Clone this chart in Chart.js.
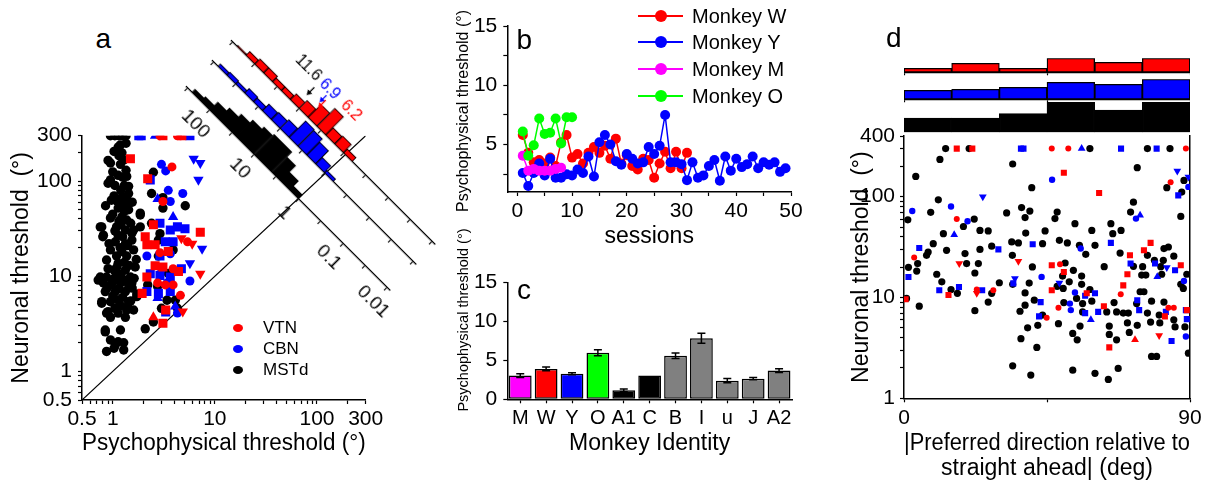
<!DOCTYPE html>
<html>
<head>
<meta charset="utf-8">
<script src="https://cdn.jsdelivr.net/npm/chart.js"></script>
<style>
  body { margin: 0; background: #fff; }
  #fig { position: relative; width: 1206px; height: 483px; overflow: hidden; font-family: 'Liberation Sans', Arial, sans-serif; color: #000; }
  canvas { position: absolute; }
  .lbl { position: absolute; font-size: 28px; line-height: 28px; }
  .leg { position: absolute; display: flex; align-items: center; white-space: nowrap; }
  .vtitle { position: absolute; width: 260px; height: 20px; line-height: 20px; text-align: center; transform: rotate(-90deg); white-space: nowrap; }
</style>
</head>
<body>
<div id="fig">
  <canvas id="cA" width="420" height="383" style="left:0;top:100px"></canvas>
  <canvas id="hMSTd" width="330" height="92"></canvas>
  <canvas id="hCBN" width="330" height="92"></canvas>
  <canvas id="hVTN" width="330" height="92"></canvas>
  <canvas id="cB" width="400" height="252" style="left:440px;top:0"></canvas>
  <canvas id="cC" width="400" height="233" style="left:440px;top:250px"></canvas>
  <canvas id="cD" width="366" height="383" style="left:840px;top:100px"></canvas>
  <canvas id="dMSTd" width="286" height="40" style="left:904px;top:96px"></canvas>
  <canvas id="dCBN" width="286" height="28" style="left:904px;top:75px"></canvas>
  <canvas id="dVTN" width="286" height="22" style="left:904px;top:54px"></canvas>
  <div class="lbl" style="left:95.5px;top:24.6px">a</div>
  <div class="lbl" style="left:516.5px;top:26.3px">b</div>
  <div class="lbl" style="left:517px;top:276.3px">c</div>
  <div class="lbl" style="left:886px;top:24.3px">d</div>
  <div class="vtitle" style="left:333px;top:101px;font-size:16px">Psychophysical threshold (°)</div>
  <div class="vtitle" style="left:333px;top:310px;font-size:14.5px">Psychophysical threshold (°)</div>
  <div id="legA"></div>
  <div id="legB"></div>
</div>
<script>
// ---------- panel a : neuronal vs psychophysical threshold ----------
const mstdA = [
  [0.95,300],[1.05,300],[1.15,300],[1.25,300],[1.35,300],
  [1.19,240],[1.03,205],[1.23,198],[0.9,165],[1.19,150],[0.95,103],[1.13,115],[1.37,112],[1.43,88],
  [1.03,70],[1.23,67],[1.37,67],[0.97,63],[1.28,58],[1.13,52],[1.43,50],[0.95,41],[1.23,42],[1.37,39],
  [1.86,44],[0.78,33],[1.09,33],[1.33,30.6],[0.81,27],[1.13,27],[1.6,30.6],[1.86,33],[1.06,23],[1.33,22],
  [1.54,24],[0.95,18.9],[1.23,18.2],[1.09,16.3],[1.37,16.3],[0.87,14.8],[1.13,13.7],[1.03,11.6],[1.33,11.6],
  [0.755,9.8],[0.87,9.8],[1.06,9.8],[1.23,9.5],[1.49,9.8],[0.81,8.5],[0.97,8.1],[1.19,8.5],[1.43,8.1],
  [0.845,6.9],[1.06,6.9],[1.33,6.9],[0.78,5.4],[0.95,5.4],[1.13,5.63],[1.43,5.4],[1.72,6.1],[0.9,4.25],
  [1.13,4.1],[1.37,4.42],[0.845,2.6],[1.19,2.72],[0.95,2.14],[1.13,2.05],[0.87,1.62],[1.03,1.75],[1.28,1.68],
  [0.755,33],[0.8,26],[0.72,9.1],[0.78,5.2],[0.87,4.1],[0.845,2.72],[1.06,1.9],[1.28,2.0],[1.33,3.7],
  [1.6,4.42],[1.72,6.5],[1.54,8.5],[1.66,12.5],[1.6,18.9],[1.54,28.3],[1.86,46],[1.43,74],[1.13,228],
  [0.95,155],[0.9,95],[1.28,167],
  [1.0,45],[1.15,38],[1.3,48],[1.2,35],[1.05,30],[1.25,26],[1.4,21],[0.92,22],[1.18,20],[1.3,14],
  [1.1,12.5],[1.45,13],[0.9,12],[1.2,10.5],[1.0,8.8],[1.35,9],[1.55,7.5],[1.15,7.4],[0.88,7.5],[1.25,6],
  [1.0,6.2],[1.4,4.8],[1.2,4.9],[1.05,4.6],[0.95,3.7],[1.5,5.5],[1.62,9.5],[1.7,15],[1.5,36],[1.4,56],
  [1.2,80],[1.05,90],[1.3,90],[1.55,60],[0.85,55],[1.1,62],[1.35,130],[1.25,110],[1.15,185],[1.35,250],[1.0,125],
  [2.5,124],[2.4,74],[3.1,67],[3.1,52],[2.4,36],[5.13,55],[2.8,24],[3.9,18.9],[2.75,7.8],[3.4,5.6],
  [4.1,5.6],[3.0,4.6],[2.08,2.8],[2.5,3.3],[4.3,4.6],[2.2,8.1],[3.5,10.7],[2.8,16.3],[2.9,28]
];
const cbnA_circle = [[3.0,150],[3.3,128],[3.5,80],[4.85,74],[3.66,61],[2.16,16.3],[3.66,17.2],[5.7,8.9],[4.3,4.1],[3.0,12],[3.4,8.5]];
const cbnA_square = [[1.8,300],[1.9,300],[5.7,300],[2.33,103],[2.9,36],[4.3,33],[5.1,31.5],[3.66,30.6],[3.27,23],[3.9,23],
  [2.9,16.3],[4.7,12],[2.33,10.6],[2.9,10.2],[3.66,9.8],[2.16,6.9],[2.8,6.6],[3.66,6.9],[3.3,4.2]];
const cbnA_up = [[2.6,300],[2.75,65],[3.9,42],[2.75,5.9],[4.09,4.8]];
const cbnA_down = [[6.2,172],[7.2,155],[6.9,103],[7.5,19.5],[5.7,13.7]];
const vtnA_circle = [[2.9,300],[4.3,300],[4.6,300],[3.8,141],[3.1,61],[5.4,23],[2.9,17.7],[3.9,12],[2.75,8.5],[3.27,8.1],[3.9,8.1],[4.6,6.3]];
const vtnA_square = [[3.1,300],[4.75,300],[1.49,172],[2.2,106],[2.5,34.8],[2.08,26],[7.2,29],[2.16,21.4],[2.6,21.4],[3.5,18.2],
  [2.6,12.9],[3.1,12.5],[4.4,11.2],[2.16,9.8],[1.94,6.6],[3.3,4.42],[3.1,3.2]];
const vtnA_up = [[2.5,3.7]];
const vtnA_down = [[4.7,25],[6.0,22],[7.2,10.6],[4.85,4.25]];
const thresholdTicksA = [0.5, 1, 10, 100, 300];

// rotated histograms of neuronal / psychophysical ratio (log10 bins)
const ratioBins = [2.3, 2.1, 1.9, 1.7, 1.5, 1.3, 1.1, 0.9, 0.7, 0.5, 0.3, 0.1, -0.1];
const mstdRatioCounts = [5, 7, 12, 16, 20, 24, 27, 29, 29, 22, 13, 6, 0];
const cbnRatioCounts  = [4, 5, 4, 7, 6, 10, 11, 13, 24, 23, 19, 10, 4];
const vtnRatioCounts  = [2, 6, 8, 8, 6, 6, 9, 12, 19, 26, 11, 12, 6];
const ratioTicks = [2.5, 2, 1.5, 1, 0.5, 0, -0.5, -1, -1.5, -2];
const ratioMedians = [['11.6', '#000'], ['6.9', '#0000ff'], ['6.2', '#ff0000']];

// ---------- panel b : psychophysical threshold over sessions ----------
const sessionsW = [1,2,3,4,5,6,7,8,9,10,11,12,13,14,15,16,17,18,19,20,21,22,23,24,25,26,27,28,29,30,31];
const psychW = [5.8,4.3,3.5,3.7,3.4,3.9,3.2,5.2,5.8,3.9,4.2,3.4,4.3,4.8,4.3,4.9,3.8,5.5,3.4,4.1,3.2,2.9,3.8,3.7,2.2,3.4,4.4,3.0,4.4,3.0,4.3];
const sessionsY = [1,2,3,4,5,6,7,8,9,10,11,12,13,14,15,16,17,18,19,20,21,22,23,24,25,26,27,28,29,30,31,32,33,34,35,36,37,38,39,40,41,42,43,44,45,46,47,48,49];
const psychY = [2.6,1.5,2.6,3.4,2.4,3.8,2.2,2.2,2.5,2.4,2.9,2.6,4.0,2.3,5.2,5.8,5.0,3.6,3.3,4.2,3.8,3.4,3.5,4.8,4.2,
  4.9,7.5,3.5,3.5,3.35,2.0,3.5,2.2,2.4,3.2,3.7,1.95,4.0,2.8,3.8,3.1,3.35,4.0,3.0,3.5,3.3,3.5,2.7,3.0];
const sessionsM = [1,2,3,4,5,6,7,8];
const psychM = [4.05,2.8,2.95,2.8,2.8,2.8,2.95,3.05];
const sessionsO = [1,2,3,4,5,6,7,8,9,10];
const psychO = [6.1,4.05,4.95,7.2,5.9,6.0,7.2,5.1,7.3,7.3];

// ---------- panel c : mean threshold per monkey ----------
const monkeyIds = ['M','W','Y','O','A1','C','B','I','u','J','A2'];
const meanThreshold = [3.05,3.9,3.3,6.0,1.15,3.05,5.6,7.85,2.4,2.65,3.7];
const semThreshold = [0.24,0.24,0.13,0.39,0.17,0,0.36,0.64,0.26,0.15,0.24];
const monkeyColors = ['#ff00ff','#ff0000','#0000ff','#00ff00','#000000','#000000','#808080','#808080','#808080','#808080','#808080'];

// ---------- panel d : threshold vs preferred direction ----------
const mstdD = [
  [13.1,300],[20.5,300],[58.5,300],[76.6,300],[83.7,300],[11.3,234],[3.7,159],[10.8,93],[8.4,70],[1.2,59],
  [22.1,60],[18.7,50.6],[23.9,46.3],[26.5,45.7],[12.4,43],[9.2,34.2],[27.6,32.3],[7.6,28.2],[13.4,29.4],[23.9,30],
  [19.2,27.3],[7.1,26.2],[1.4,19.9],[4.3,21.7],[23.4,21.7],[19.7,21.7],[4.0,18.3],[10.3,17.0],[22.3,17.5],[11.9,14.3],
  [14.8,12],[16.8,11],[27.6,11],[30.0,14],[26.5,9.0],[4.8,8.2],[22.3,7.4],[0.8,9.8],[32.3,69],[34.2,211],
  [37.0,78],[39.6,72],[38.1,62],[40.2,123],[38.3,43.6],[33.9,35.6],[36.0,34.8],[34.1,26.2],[40.4,20.1],[39.4,13.9],
  [34.2,13.5],[38.1,11.1],[41.0,9.4],[38.1,8.4],[36.5,7.3],[38.9,5.0],[42.1,5.3],[36.8,3.9],[41.8,3.2],[34.2,2.1],[39.9,1.7],
  [73.4,194],[82.7,123],[88.1,145],[87.4,111],[72.2,88.3],[71.3,70.4],[87.1,63.7],[48.2,70.4],[47.5,60.6],[53.8,54],
  [59.1,46.3],[65.1,54],[68.3,46.3],[65.7,43],[44.4,45.7],[43.6,34.2],[48.9,36.9],[51.4,34.8],[55.2,32.9],[57.2,26.8],
  [60.1,32.9],[68.0,27.6],[76.6,26.2],[81.8,30.6],[83.2,31.7],[84.9,25.7],[78.8,23.4],[81.6,23.4],[72.2,20.4],[75.1,20.2],
  [80.8,20.2],[89.0,17],[74.8,16.7],[76.1,16.7],[81.1,17],[87.1,13.5],[87.9,12.3],[63.0,20.2],[50.7,22.0],[49.9,16.3],
  [53.3,18.6],[55.9,16.3],[48.2,12.9],[52.0,14.3],[55.9,13.5],[50.1,12.3],[58.5,12],[54.3,9.8],[56.2,8.7],[59.1,9.2],
  [50.3,8.9],[43.6,6.7],[56.2,7.2],[63.8,7.2],[66.1,8.9],[66.9,7.2],[69.0,7.0],[70.6,7.0],[73.2,8.7],[74.3,11.4],
  [75.5,11.4],[77.9,9.2],[76.6,7.0],[81.8,9.0],[80.3,6.7],[84.9,6.0],[80.5,5.6],[77.6,5.7],[73.4,5.3],[70.3,5.6],
  [64.6,5.2],[85.3,5.1],[88.4,5.1],[48.6,5.5],[55.4,5.2],[54.5,3.8],[53.1,4.4],[64.6,4.3],[66.9,3.8],[70.9,4.5],
  [77.9,2.6],[79.5,2.6],[89.5,2.8],[53.1,1.9],[60.1,1.77],[64.3,1.54],[67.4,1.98]
];
const cbnD_circle = [[2.6,72],[14.8,80],[20.0,57],[43.3,16],[46.6,147],[89.5,125],[73.0,60.6],[55.6,30.6],[88.1,14.6],[53.8,11.2],[52.2,8.7],[52.5,7.5],[88.7,4.1]];
const cbnD_square = [[36.8,300],[37.6,300],[68.3,300],[79.5,300],[4.8,31],[29.7,30],[40.5,33.7],[1.4,16],[11.1,11.8],[17.3,12.7],
  [24.6,11.8],[34.4,13.8],[43.0,9.0],[42.5,6.5],[86.3,103],[65.1,34.8],[71.3,21.7],[79.0,21.7],[85.3,18.6],[57.0,10.4],
  [60.1,11],[57.0,7.0],[61.1,7.2],[73.4,9.4],[74.0,7.5],[82.4,7.2],[88.7,7.5],[89.0,6.1],[84.2,3.7]];
const cbnD_up = [[15.8,42],[55.9,300],[74.3,65.5],[79.7,16.1],[58.8,6.0]];
const cbnD_down = [[24.8,100],[34.9,15.4],[86.0,180],[89.5,157],[82.7,19.8],[48.9,13.9]];
const vtnD_circle = [[46.5,300],[51.7,300],[88.7,300],[16.6,60],[3.2,25],[22.9,12],[28.1,11.8],[44.9,6.3],[83.9,139],[49.1,21.4],[68.2,10.8],[48.6,7.9],[83.2,7.9],[84.9,7.9]];
const vtnD_square = [[16.6,300],[21.5,300],[0.5,9.6],[14.0,10.6],[46.5,20.9],[46.5,11.8],[50.3,173],[61.4,109],[77.6,34.8],[75.5,29.4],
  [71.1,26.2],[87.1,20.9],[70.3,17],[50.3,17.9],[69.0,13.2],[57.5,11],[62.9,8.2],[82.1,6.5],[89.0,7.5],[64.6,3.2]];
const vtnD_up = [[72.7,3.8]];
const vtnD_down = [[17.4,21.7],[36.0,22.9],[22.9,11],[80.3,4.2]];
const thresholdTicksD = [1, 10, 100, 400];
const dirBinCenters = [7.5, 22.5, 37.5, 52.5, 67.5, 82.5];
const mstdDirCounts = [16, 16, 21, 34, 25, 34];
const cbnDirCounts  = [9, 10, 12, 17, 15, 20];
const vtnDirCounts  = [4, 9, 4, 14, 10, 14];

// ---------- common setup ----------
Chart.defaults.font.family = "'Liberation Sans', Arial, Helvetica, sans-serif";
Chart.defaults.color = '#000';
Chart.defaults.animation = false;
Chart.defaults.responsive = false;
Chart.defaults.plugins.legend.display = false;
Chart.defaults.plugins.tooltip.enabled = false;

const RED = '#ff0000', BLUE = '#0000ff', BLACK = '#000000';
const gridOut = { drawOnChartArea: false, drawTicks: true, tickLength: 4, tickColor: '#000', tickWidth: 1.2, offset: false };
const axisLine = { display: true, color: '#000', width: 1.5 };

const xy = arr => arr.map(p => ({ x: p[0], y: p[1] }));
function marks(arr, color, style, r, rot) {
  return { data: xy(arr), showLine: false, pointStyle: style, pointRadius: r, pointHoverRadius: r,
    pointRotation: rot || 0, pointBackgroundColor: color, pointBorderWidth: 0 };
}
function logTicks(min, max) {
  const out = [];
  for (let e = -1; e <= 3; e++) {
    for (let m = 1; m <= 9; m++) {
      const v = +(m * Math.pow(10, e)).toPrecision(6);
      if (v >= min - 1e-9 && v <= max + 1e-9) out.push({ value: v });
    }
  }
  return out;
}

// ---------- panel a ----------
new Chart(document.getElementById('cA'), {
  type: 'scatter',
  data: { datasets: [
    marks(vtnA_circle, RED, 'circle', 4.5),
    marks(vtnA_square, RED, 'rect', 6.4),
    marks(vtnA_up, RED, 'triangle', 6),
    marks(vtnA_down, RED, 'triangle', 6, 180),
    marks(cbnA_circle, BLUE, 'circle', 4.5),
    marks(cbnA_square, BLUE, 'rect', 6.4),
    marks(cbnA_up, BLUE, 'triangle', 6),
    marks(cbnA_down, BLUE, 'triangle', 6, 180),
    marks(mstdA, BLACK, 'circle', 4.7),
    { data: [{ x: 0.5, y: 0.5 }, { x: 300, y: 300 }], showLine: true, borderColor: '#000', borderWidth: 1.2, pointRadius: 0 }
  ]},
  options: {
    layout: { padding: { top: 35.7, right: 54.3, left: 0, bottom: 0 } },
    scales: {
      x: {
        type: 'logarithmic', min: 0.5, max: 300,
        afterBuildTicks: s => { s.ticks = logTicks(0.5, 300); },
        afterFit: s => { s.height = 83; },
        ticks: { autoSkip: false, maxRotation: 0, font: { size: 21 }, padding: 3,
          callback: v => thresholdTicksA.includes(v) ? String(v) : '' },
        grid: gridOut, border: axisLine,
        title: { display: true, text: 'Psychophysical threshold (°)', font: { size: 23 }, padding: { top: 0, bottom: 26 } }
      },
      y: {
        type: 'logarithmic', min: 0.5, max: 300,
        afterBuildTicks: s => { s.ticks = logTicks(0.5, 300); },
        afterFit: s => { s.width = 82; },
        ticks: { autoSkip: false, font: { size: 21 }, padding: 6,
          callback: v => thresholdTicksA.includes(v) ? String(v) : '' },
        grid: gridOut, border: axisLine,
        title: { display: true, text: 'Neuronal threshold  (°)', font: { size: 23 }, padding: { top: 8, bottom: 0 } }
      }
    }
  }
});

// median arrows + values above the outer (VTN) histogram
const medianMarks = {
  id: 'medianMarks',
  afterDatasetsDraw(chart, args, opts) {
    if (!opts.items) return;
    const { ctx, chartArea } = chart;
    const xs = chart.scales.x;
    const base = chartArea.bottom;
    ctx.save();
    ctx.font = "16px 'Liberation Sans', Arial, sans-serif";
    ctx.textAlign = 'center';
    ctx.textBaseline = 'middle';
    opts.items.forEach(it => {
      const px = xs.getPixelForValue(Math.log10(parseFloat(it.text)));
      ctx.strokeStyle = it.color;
      ctx.fillStyle = it.color;
      ctx.lineWidth = 1.3;
      ctx.beginPath();
      ctx.moveTo(px, base - it.from);
      ctx.lineTo(px, base - it.to - 3);
      ctx.stroke();
      ctx.beginPath();
      ctx.moveTo(px, base - it.to);
      ctx.lineTo(px - 3, base - it.to - 5);
      ctx.lineTo(px + 3, base - it.to - 5);
      ctx.closePath();
      ctx.fill();
      ctx.fillText(it.text, xs.getPixelForValue(it.at), base - 35.5);
    });
    ctx.restore();
  }
};

function ratioHist(id, counts, color, showLabels, origin, annot) {
  const el = document.getElementById(id);
  const chart = new Chart(el, {
    type: 'bar',
    data: { datasets: [{
      data: ratioBins.map((b, i) => ({ x: b, y: counts[i] })),
      backgroundColor: color, borderColor: '#000', borderWidth: 1, borderSkipped: false,
      barPercentage: 1, categoryPercentage: 1
    }]},
    options: {
      layout: { padding: { left: 20, right: 23, top: 0, bottom: 0 } },
      scales: {
        x: {
          type: 'linear', min: -2.05, max: 2.52, reverse: true, offset: false,
          afterBuildTicks: s => { s.ticks = ratioTicks.map(v => ({ value: v })); },
          afterFit: s => { s.height = 32; },
          ticks: { display: showLabels, autoSkip: false, maxRotation: 0, font: { size: 19 }, padding: 4,
            callback: v => Number.isInteger(v) ? String(Math.pow(10, v)) : '' },
          grid: gridOut, border: { display: true, color: '#000', width: 1.3 }
        },
        y: { display: false, min: 0, max: 60 }
      },
      plugins: { medianMarks: annot || {} }
    },
    plugins: annot ? [medianMarks] : []
  });
  const ox = chart.scales.x.getPixelForValue(0);
  const oy = chart.chartArea.bottom;
  el.style.left = (origin[0] - ox) + 'px';
  el.style.top = (origin[1] - oy) + 'px';
  el.style.transformOrigin = ox + 'px ' + oy + 'px';
  el.style.transform = 'rotate(45deg)';
}
ratioHist('hMSTd', mstdRatioCounts, BLACK, true, [298, 199.1]);
ratioHist('hCBN', cbnRatioCounts, BLUE, false, [324.3, 172.8]);
ratioHist('hVTN', vtnRatioCounts, RED, false, [343.7, 153.4], { items: [
  { text: ratioMedians[0][0], color: ratioMedians[0][1], from: 26, to: 15, at: 1.35 },
  { text: ratioMedians[1][0], color: ratioMedians[1][1], from: 29, to: 19, at: 0.87 },
  { text: ratioMedians[2][0], color: ratioMedians[2][1], from: 25, to: 14, at: 0.39 }
]});

// legend a
const legendA = [['VTN', RED, 328], ['CBN', BLUE, 349], ['MSTd', BLACK, 370]];
let legAHtml = '';
legendA.forEach(([name, col, cy]) => {
  legAHtml += `
    <div class="leg" style="left:233px;top:${cy - 10}px;height:20px">
      <span style="display:inline-block;width:10px;height:8px;border-radius:50%;background:${col}"></span>
      <span style="margin-left:20px;font-size:17px">${name}</span>
    </div>`;
});
document.getElementById('legA').innerHTML = legAHtml;

// ---------- panel b ----------
function series(label, xs, ys, col, order) {
  return { label, data: xs.map((s, i) => ({ x: s, y: ys[i] })), borderColor: col, borderWidth: 1.5,
    pointBackgroundColor: col, pointBorderWidth: 0, pointRadius: 5, pointHoverRadius: 5, order };
}
new Chart(document.getElementById('cB'), {
  type: 'line',
  data: { datasets: [
    series('Monkey W', sessionsW, psychW, RED, 4),
    series('Monkey Y', sessionsY, psychY, BLUE, 3),
    series('Monkey M', sessionsM, psychM, '#ff00ff', 2),
    series('Monkey O', sessionsO, psychO, '#00ff00', 1)
  ]},
  options: {
    layout: { padding: { top: 26, right: 49, left: 0, bottom: 0 } },
    scales: {
      x: {
        type: 'linear', min: -1.83, max: 50,
        afterBuildTicks: s => { s.ticks = [0,5,10,15,20,25,30,35,40,45,50].map(v => ({ value: v })); },
        afterFit: s => { s.height = 60; },
        ticks: { autoSkip: false, maxRotation: 0, font: { size: 21 }, padding: 3, callback: v => v % 10 === 0 ? String(v) : '' },
        grid: gridOut, border: axisLine,
        title: { display: true, text: 'sessions', font: { size: 23 }, padding: { top: 0, bottom: 1.2 } }
      },
      y: {
        min: 1, max: 15,
        afterBuildTicks: s => { s.ticks = [2.5,5,7.5,10,12.5,15].map(v => ({ value: v })); },
        afterFit: s => { s.width = 67.3; },
        ticks: { autoSkip: false, font: { size: 21 }, padding: 6, callback: v => v % 5 === 0 ? String(v) : '' },
        grid: gridOut, border: axisLine
      }
    }
  }
});
const legendB = [['Monkey W', RED, 16], ['Monkey Y', BLUE, 42], ['Monkey M', '#ff00ff', 69], ['Monkey O', '#00ff00', 96]];
let legBHtml = '';
legendB.forEach(([name, col, cy]) => {
  legBHtml += `
    <div class="leg" style="left:638px;top:${cy - 10}px;height:20px">
      <span style="position:relative;display:inline-block;width:45px;height:2px;background:${col}">
        <span style="position:absolute;left:16.5px;top:-5px;width:12px;height:12px;border-radius:50%;background:${col}"></span>
      </span>
      <span style="margin-left:9px;font-size:20px">${name}</span>
    </div>`;
});
document.getElementById('legB').innerHTML = legBHtml;

// ---------- panel c ----------
const errorBars = {
  id: 'errorBars',
  afterDatasetsDraw(chart) {
    const { ctx } = chart;
    const ys = chart.scales.y;
    const meta = chart.getDatasetMeta(0);
    ctx.save();
    ctx.strokeStyle = '#000';
    ctx.lineWidth = 1.5;
    meta.data.forEach((bar, i) => {
      const e = semThreshold[i];
      if (!e) return;
      const top = ys.getPixelForValue(meanThreshold[i] + e);
      const bot = ys.getPixelForValue(meanThreshold[i] - e);
      ctx.beginPath();
      ctx.moveTo(bar.x, top); ctx.lineTo(bar.x, bot);
      ctx.moveTo(bar.x - 4, top); ctx.lineTo(bar.x + 4, top);
      ctx.moveTo(bar.x - 4, bot); ctx.lineTo(bar.x + 4, bot);
      ctx.stroke();
    });
    ctx.restore();
  }
};
new Chart(document.getElementById('cC'), {
  type: 'bar',
  data: { labels: monkeyIds, datasets: [{
    data: meanThreshold, backgroundColor: monkeyColors, borderColor: '#000', borderWidth: 1.5,
    borderSkipped: false, barPercentage: 0.88, categoryPercentage: 1
  }]},
  options: {
    layout: { padding: { top: 32.7, right: 48, left: 0, bottom: 0 } },
    scales: {
      x: {
        afterFit: s => { s.height = 83.7; },
        ticks: { autoSkip: false, maxRotation: 0, font: { size: 20 }, padding: 3 },
        grid: gridOut, border: axisLine,
        title: { display: true, text: 'Monkey Identity', font: { size: 23 }, padding: { top: 0, bottom: 26 } }
      },
      y: {
        min: 0, max: 15,
        afterBuildTicks: s => { s.ticks = [0, 5, 10, 15].map(v => ({ value: v })); },
        afterFit: s => { s.width = 67.3; },
        ticks: { autoSkip: false, font: { size: 21 }, padding: 6 },
        grid: gridOut, border: axisLine
      }
    }
  },
  plugins: [errorBars]
});

// ---------- panel d ----------
new Chart(document.getElementById('cD'), {
  type: 'scatter',
  data: { datasets: [
    marks(vtnD_circle, RED, 'circle', 3),
    marks(vtnD_square, RED, 'rect', 4.3),
    marks(vtnD_up, RED, 'triangle', 4.5),
    marks(vtnD_down, RED, 'triangle', 4.5, 180),
    marks(cbnD_circle, BLUE, 'circle', 3.2),
    marks(cbnD_square, BLUE, 'rect', 4.3),
    marks(cbnD_up, BLUE, 'triangle', 4.5),
    marks(cbnD_down, BLUE, 'triangle', 4.5, 180),
    marks(mstdD, BLACK, 'circle', 3.6)
  ]},
  options: {
    layout: { padding: { top: 36, right: 16, left: 0, bottom: 0 } },
    scales: {
      x: {
        type: 'linear', min: 0, max: 90,
        afterBuildTicks: s => { s.ticks = [0, 45, 90].map(v => ({ value: v })); },
        afterFit: s => { s.height = 84.7; },
        ticks: { autoSkip: false, maxRotation: 0, font: { size: 21 }, padding: 3, callback: v => v === 45 ? '' : String(v) },
        grid: gridOut, border: axisLine,
        title: { display: true, text: ['|Preferred direction relative to', 'straight ahead| (deg)'],
          font: { size: 23, lineHeight: 1.05 }, padding: { top: 0, bottom: 2.7 } }
      },
      y: {
        type: 'logarithmic', min: 1, max: 400,
        afterBuildTicks: s => { s.ticks = logTicks(1, 400); },
        afterFit: s => { s.width = 64; },
        ticks: { autoSkip: false, font: { size: 21 }, padding: 5,
          callback: v => thresholdTicksD.includes(v) ? String(v) : '' },
        grid: gridOut, border: axisLine,
        title: { display: true, text: 'Neuronal threshold  (°)', font: { size: 23 }, padding: { top: 8, bottom: 0 } }
      },
      y2: {
        type: 'linear', position: 'right',
        afterFit: s => { s.width = 0; },
        ticks: { display: false },
        grid: { drawOnChartArea: false, drawTicks: false },
        border: axisLine
      }
    }
  }
});

function dirHist(id, counts, color, maxCount, padTop, withAxis) {
  new Chart(document.getElementById(id), {
    type: 'bar',
    data: { datasets: [{
      data: dirBinCenters.map((b, i) => ({ x: b, y: counts[i] })),
      backgroundColor: color, borderColor: '#000', borderWidth: 1.3, borderSkipped: false,
      barPercentage: 1, categoryPercentage: 1
    }]},
    options: {
      layout: { padding: { top: padTop, left: 0, right: 0, bottom: 0 } },
      scales: {
        x: {
          type: 'linear', min: 0, max: 90, offset: false, display: withAxis,
          afterBuildTicks: s => { s.ticks = [0, 45, 90].map(v => ({ value: v })); },
          afterFit: s => { s.height = 3.7; },
          ticks: { display: false },
          grid: { drawOnChartArea: false, drawTicks: true, tickLength: 3, tickColor: '#000', tickWidth: 1.2, offset: false },
          border: { display: true, color: '#000', width: 1.3 }
        },
        y: { display: false, min: 0, max: maxCount }
      }
    }
  });
}
dirHist('dMSTd', mstdDirCounts, BLACK, 34, 6, false);
dirHist('dCBN', cbnDirCounts, BLUE, 20, 4.3, true);
dirHist('dVTN', vtnDirCounts, RED, 14, 4.3, true);
</script>
</body>
</html>
